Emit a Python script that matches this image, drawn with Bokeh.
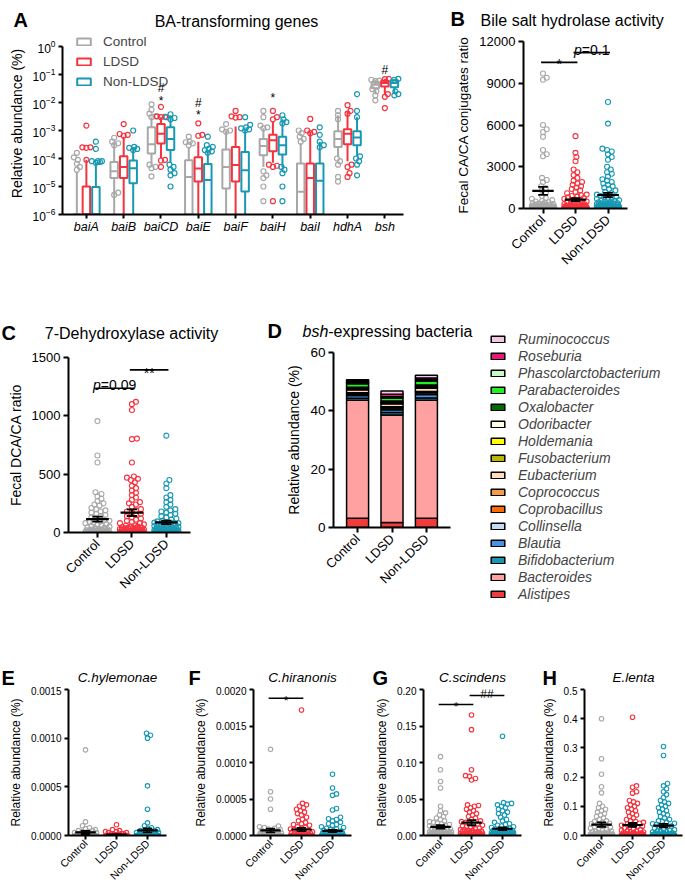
import math
import numpy as np
from bokeh.plotting import figure
from bokeh.models import (Range1d, FixedTicker, NumeralTickFormatter, Label,
                          Legend, LegendItem, ColumnDataSource)
from bokeh.layouts import row, column
from bokeh.embed import file_html
from bokeh.resources import INLINE
from bokeh.core.properties import value

FONT = "Liberation Sans"
GROUPS = ["Control", "LDSD", "Non-LDSD"]
GCOL = ["#A8A8A8", "#F5333F", "#1898B3"]

# ---------------- Panel A: BA-transforming genes (box plots, log scale) ----------------
GENES = ["baiA", "baiB", "baiCD", "baiE", "baiF", "baiH", "baiI", "hdhA", "bsh"]
# (q1, median, q3, whisker_low, whisker_high)
A_CTRL_BOX = [(1e-6, 1e-6, 1e-6, 1e-6, 3.3e-5), (2e-5, 3.5e-5, 7.5e-5, 1e-6, 4e-4),
              (1.5e-4, 3.2e-4, 1.3e-3, 6e-5, 3e-3), (1e-6, 2.2e-5, 8.7e-5, 1e-6, 2.6e-4),
              (8.5e-6, 5e-5, 2.1e-4, 1e-6, 1e-3), (1.3e-4, 2.8e-4, 5e-4, 5e-5, 1.2e-3),
              (1e-6, 6.5e-6, 6.6e-5, 1e-6, 3.5e-4), (2.6e-4, 5e-4, 9.4e-4, 1.1e-4, 3.5e-3),
              (3.2e-2, 4.3e-2, 5.4e-2, 2e-2, 6.5e-2)]
A_LDSD_BOX = [(1e-6, 1e-6, 1e-5, 1e-6, 9e-5), (2e-5, 5e-5, 1.2e-4, 1e-6, 6e-4),
              (3.4e-4, 7.7e-4, 1.7e-3, 1e-4, 3e-3), (1.5e-5, 4.4e-5, 1.1e-4, 1e-6, 4e-4),
              (1.5e-5, 5.8e-5, 2.6e-4, 1e-6, 1.4e-3), (1.8e-4, 4.5e-4, 7e-4, 7e-5, 2e-3),
              (1e-6, 2e-5, 6.6e-5, 1e-6, 9e-4), (3.2e-4, 7.7e-4, 1.1e-3, 8e-5, 5e-3),
              (3.7e-2, 5e-2, 6e-2, 2e-2, 7e-2)]
A_NON_BOX = [(1e-6, 1e-6, 9.5e-6, 1e-6, 7e-5), (1.3e-5, 4.5e-5, 8.5e-5, 1e-6, 2.3e-4),
             (2e-4, 5e-4, 1.3e-3, 7e-5, 3.5e-3), (1e-6, 1.7e-5, 6.3e-5, 1e-6, 2e-4),
             (6.6e-6, 3.8e-5, 1.7e-4, 1e-6, 1.1e-3), (1.4e-4, 3e-4, 6e-4, 5e-5, 2.5e-3),
             (1e-6, 1.6e-5, 6.6e-5, 1e-6, 4e-4), (3e-4, 5.6e-4, 9.4e-4, 1.2e-4, 3e-3),
             (3.5e-2, 5e-2, 6.2e-2, 2e-2, 7e-2)]
A_CTRL_OUT = [[1.6e-4, 1.1e-4, 9e-5, 6.5e-5, 5e-5, 4e-5],
              [5.5e-4, 4e-4, 3.5e-4, 3e-4, 5e-6, 6e-6],
              [8.6e-3, 5.5e-3, 4e-3, 3.2e-3, 3e-3, 6e-5, 5e-5, 4.5e-5, 2.3e-5],
              [6e-4, 4e-4, 3.8e-4, 3.5e-4, 3e-4],
              [1.7e-3, 1.1e-3, 1e-3, 9e-4],
              [5e-3, 3e-3, 1.5e-3, 1.3e-3, 1.2e-3, 3.5e-5, 2.5e-5, 2e-5, 1e-5, 3e-6],
              [1e-3, 8e-4, 6e-4, 5e-4, 4e-4],
              [5e-3, 3.5e-3, 2.5e-3, 1e-4, 8e-5, 6e-5, 2.2e-5, 1.5e-5],
              [6.5e-2, 6e-2, 5.8e-2, 3e-2, 2.5e-2, 1.8e-2, 1.2e-2]]
A_LDSD_OUT = [[1.5e-3, 2.5e-4, 2.5e-4, 2.4e-4, 9e-5],
              [1.7e-3, 7.5e-4, 7e-4, 6.5e-4],
              [7e-3, 3.2e-3, 3.1e-3, 3e-3, 9e-5, 8.5e-5, 5e-5],
              [1.8e-3, 7e-4, 6.5e-4],
              [5e-3, 3.2e-3, 3e-3, 2.9e-3],
              [5e-3, 3e-3, 2.5e-3, 6e-5, 5.5e-5, 5e-5, 3e-6],
              [2.6e-3, 1e-3, 9e-4, 8e-4],
              [8e-3, 5e-3, 4e-3, 6e-5, 5e-5, 3e-5, 2.2e-5],
              [7e-2, 6.8e-2, 2e-2, 1.6e-2, 6.3e-3]]
A_NON_OUT = [[4e-4, 2.2e-4, 8e-5, 8e-5, 7.5e-5, 7e-5, 8e-5],
             [1e-3, 2.6e-4, 2.4e-4, 2.2e-4, 2e-4],
             [3.8e-3, 3e-3, 2.8e-3, 2.5e-3, 6e-5, 5e-5, 4e-5, 3e-5, 2.5e-5, 1e-5],
             [6e-4, 3e-4, 2.6e-4, 2.2e-4, 2e-4, 1.8e-4, 1.6e-4],
             [3e-3, 1.6e-3, 1.3e-3, 1.2e-3, 1.1e-3, 1e-3],
             [3.5e-3, 2.5e-3, 2e-3, 1.8e-3, 5e-5, 4e-5, 3e-5, 1e-5, 3e-6],
             [1.3e-3, 7e-4, 4e-4, 3e-4, 2.5e-4],
             [2e-2, 5e-3, 3e-3, 1.2e-4, 1e-4, 8e-5, 6e-5, 2.5e-5],
             [7e-2, 6.5e-2, 2.5e-2, 2e-2, 1.8e-2]]
A_MARK_GENE = [2, 2, 3, 3, 5, 8]
A_MARK_TEXT = ["#", "*", "#", "*", "*", "#"]
A_MARK_Y = [3.2e-2, 1.5e-2, 1.0e-2, 4.4e-3, 1.8e-2, 1.4e-1]

# ---------------- Panel B: Fecal CA / CA conjugates ratio ----------------
B_CTRL = [9700, 9400, 9250, 6000, 5700, 5500, 5150, 4200, 3900, 3750, 2200, 2050, 1900, 1600,
          1450, 1300, 1100, 900, 750, 700, 600, 550, 500, 450, 420, 400,
          350, 320, 300, 280, 260, 250, 220, 200, 190, 180, 160, 150, 140, 120, 120, 100, 100, 90, 80, 80,
          70, 60, 60, 50, 50, 40, 40, 35, 30, 30, 25, 20, 20, 15, 10, 10, 5, 5, 0, 0]
B_LDSD = [5200, 4000, 3700, 3400, 2800, 2600, 2400, 2200, 2000, 1900, 1800, 1700, 1600, 1500, 1400, 1300, 1200,
          1100, 1000, 950, 900, 850, 800, 750, 700, 650, 600, 550, 500, 450, 400,
          380, 350, 320, 300, 280, 260, 240, 220, 200, 180, 160, 150, 140, 130, 120, 110, 100,
          90, 80, 70, 60, 50, 45, 40, 35, 30, 25, 20, 15, 10, 5, 0,
          0, 0, 5, 5, 10, 10, 15, 20, 20, 25, 30, 30, 40, 40, 50, 50, 60, 70, 80, 90, 100, 110, 120, 140, 160]
B_NON = [7650, 6100, 4300, 4200, 4100, 3900, 3700, 3500, 3000, 2800, 2600, 2500, 2300, 2100, 2000,
         1900, 1800, 1700, 1600, 1500, 1400, 1300, 1200, 1100, 1000,
         950, 900, 850, 800, 750, 700, 650, 600, 550, 500, 450, 400,
         380, 350, 320, 300, 280, 260, 240, 220, 200, 180, 160, 150, 140, 130, 120, 110, 100,
         90, 80, 70, 60, 50, 45, 40, 35, 30, 25, 20, 15, 10, 5, 0,
         0, 5, 10, 20, 30, 40, 50, 60, 80, 100, 120, 150, 200, 250, 300, 400, 500, 600]
B_SIG = [("*", 0, 1, 10500), ("p=0.1", 1, 2, 11200)]

# ---------------- Panel C: Fecal DCA / CA ratio ----------------
C_CTRL = [955, 660, 600, 345, 330, 310, 290, 270, 250, 240, 230, 210, 200, 190, 180, 170, 160, 150, 140, 130,
          120, 110, 100, 95, 90, 85, 80, 70, 65, 60, 55, 50, 45, 40, 35, 30, 28, 25, 22, 20, 18, 15, 12, 10,
          8, 6, 5, 4, 3, 2, 1, 0, 0, 0, 1, 2, 3, 5, 5, 8, 10, 12, 15, 18, 20]
C_LDSD = [1120, 1100, 1050, 805, 800, 600, 480, 470, 460, 450, 430, 400, 380, 360, 340, 320,
          300, 280, 260, 250, 240, 220, 200, 190, 180, 170, 160, 150, 140, 130, 120, 110, 100, 90, 80, 70,
          60, 50, 45, 40, 35, 30, 25, 20, 15, 10, 8, 5, 3, 2, 1, 0, 0, 0,
          2, 5, 10, 15, 20, 30, 40, 50, 60, 80,
          0, 0, 1, 2, 3, 4, 5, 6, 8, 10, 12, 15, 18, 20, 25, 30, 35, 40]
C_NON = [830, 450, 420, 380, 320, 300, 280, 260, 240, 220, 200, 190, 180, 170, 160,
         150, 140, 130, 120, 110, 100, 95, 90, 85, 80, 75, 70, 65, 60, 55, 50, 45, 40, 35, 30,
         28, 25, 22, 20, 18, 15, 12, 10, 8, 6, 5, 4, 3, 2, 1, 0, 0, 0,
         1, 3, 5, 8, 10, 12, 15, 20, 25, 30, 35, 40, 50, 60, 70, 80,
         0, 0, 1, 2, 2, 3, 4, 5, 6, 8]
C_SIG = [("p=0.09", 0, 1, 1236), ("**", 1, 2, 1394)]

# ---------------- Panel D: bsh-expressing bacteria (stacked, %) ----------------
D_GROUPS = ["Control", "LDSD", "Non-LDSD"]
D_NAMES = ["Alistipes", "Bacteroides", "Bifidobacterium", "Blautia", "Collinsella", "Coprobacillus",
           "Coprococcus", "Eubacterium", "Fusobacterium", "Holdemania", "Odoribacter", "Oxalobacter",
           "Parabacteroides", "Phascolarctobacterium", "Roseburia", "Ruminococcus"]
D_COLORS = ["#F03C3C", "#FFA1A1", "#1A97AF", "#4A8FE3", "#C6DBF3", "#FF6A00", "#F59B48", "#FFDDB8",
            "#B8B800", "#FFFF00", "#FFFDE3", "#006B00", "#22EE22", "#C9F7C9", "#E8177A", "#F6C6E6"]
D_ALISTIPES = [3.2, 1.7, 3.2]
D_BACTEROIDES = [40.4, 36.9, 40.4]
D_BIFIDOBACTERIUM = [0.7, 0.8, 0.8]
D_BLAUTIA = [1.0, 1.0, 1.2]
D_COLLINSELLA = [0.5, 0.6, 0.6]
D_COPROBACILLUS = [0.1, 0.1, 0.1]
D_COPROCOCCUS = [0.3, 0.3, 0.3]
D_EUBACTERIUM = [1.0, 1.0, 1.2]
D_FUSOBACTERIUM = [0.1, 0.1, 0.1]
D_HOLDEMANIA = [0.1, 0.1, 0.1]
D_ODORIBACTER = [0.4, 0.4, 0.5]
D_OXALOBACTER = [0.3, 0.4, 0.4]
D_PARABACTEROIDES = [1.2, 1.0, 1.3]
D_PHASCOLARCTOBACTERIUM = [0.4, 0.4, 0.5]
D_ROSEBURIA = [0.5, 0.9, 0.6]
D_RUMINOCOCCUS = [0.5, 1.1, 0.9]
D_VALUES = [D_ALISTIPES, D_BACTEROIDES, D_BIFIDOBACTERIUM, D_BLAUTIA, D_COLLINSELLA, D_COPROBACILLUS,
            D_COPROCOCCUS, D_EUBACTERIUM, D_FUSOBACTERIUM, D_HOLDEMANIA, D_ODORIBACTER, D_OXALOBACTER,
            D_PARABACTEROIDES, D_PHASCOLARCTOBACTERIUM, D_ROSEBURIA, D_RUMINOCOCCUS]

# ---------------- Panels E-H: relative abundance (%) ----------------
E_CTRL = [8.8e-4, 1.4e-4, 1.0e-4, 8e-5, 7e-5, 6e-5, 5e-5, 5e-5, 4e-5, 4e-5, 3e-5, 3e-5, 3e-5, 2e-5, 2e-5, 2e-5,
          2e-5, 1e-5, 1e-5, 1e-5, 1e-5, 1e-5, 5e-6, 5e-6, 5e-6, 5e-6,
          0, 0, 0, 0, 0, 0, 0, 0, 0, 0, 0, 0, 0, 0, 0, 0, 0, 0, 0, 0, 0, 0, 0, 0, 0, 0, 0, 0, 0]
E_LDSD = [1.1e-4, 6e-5, 5e-5, 4e-5, 4e-5, 3e-5, 3e-5, 2e-5, 2e-5, 2e-5, 1e-5, 1e-5, 1e-5, 1e-5, 5e-6, 5e-6, 5e-6,
          0, 0, 0, 0, 0, 0, 0, 0, 0, 0, 0, 0, 0, 0, 0, 0, 0, 0, 0, 0,
          0, 0, 0, 0, 0, 0, 0, 0, 0, 0, 0, 0, 0, 0, 0, 0, 0, 0, 0, 0]
E_NON = [1.05e-3, 1.03e-3, 1.0e-3, 5.1e-4, 2.7e-4, 1.3e-4, 1.0e-4, 8e-5, 7e-5, 6e-5, 5e-5, 5e-5, 4e-5, 4e-5,
         3e-5, 3e-5, 3e-5, 2e-5, 2e-5, 2e-5, 2e-5, 1e-5, 1e-5, 1e-5, 1e-5, 1e-5, 5e-6, 5e-6, 5e-6, 5e-6,
         0, 0, 0, 0, 0, 0, 0, 0, 0, 0, 0, 0, 0, 0, 0, 0, 0, 0, 0, 0,
         0, 0, 0, 0, 0, 0, 0, 0, 0, 0, 0, 0, 0, 0, 0, 0, 0, 0, 0, 0,
         0, 0, 0, 0, 0, 0, 0, 0, 0, 0, 0, 0, 0, 0, 0, 0, 0, 0, 0, 0]
F_CTRL = [1.18e-3, 6.0e-4, 5.0e-4, 3.6e-4, 1.3e-4, 1.2e-4, 1.1e-4, 1.0e-4, 9e-5, 8e-5, 7e-5, 6e-5, 5e-5, 5e-5,
          4e-5, 4e-5, 3e-5, 3e-5, 3e-5, 2e-5, 2e-5, 2e-5, 2e-5, 1e-5, 1e-5, 1e-5, 1e-5, 1e-5, 5e-6, 5e-6, 5e-6,
          0, 0, 0, 0, 0, 0, 0, 0, 0, 0, 0, 0, 0, 0, 0, 0, 0, 0, 0, 0, 0, 0, 0, 0]
F_LDSD = [1.72e-3, 4.4e-4, 4.2e-4, 4.0e-4, 3.8e-4, 3.6e-4, 3.4e-4, 3.2e-4, 3.0e-4, 2.8e-4, 2.5e-4, 2.2e-4, 2.0e-4,
          1.8e-4, 1.6e-4, 1.5e-4, 1.4e-4, 1.2e-4, 1.1e-4, 1.0e-4, 9e-5, 8e-5, 7e-5, 6e-5, 5e-5, 5e-5, 4e-5, 4e-5,
          3e-5, 3e-5, 2e-5, 2e-5, 2e-5, 1e-5, 1e-5, 1e-5, 5e-6, 5e-6,
          0, 0, 0, 0, 0, 0, 0, 0, 0, 0, 0, 0, 0, 0, 0, 0, 0, 0, 0, 0, 0, 0, 0, 0, 0,
          0, 0, 0, 0, 0, 0, 0, 0, 0, 0, 0, 0, 0, 0, 0, 0, 0, 0, 0, 0, 0, 0, 0, 0, 0]
F_NON = [8.4e-4, 6.5e-4, 5.7e-4, 5.5e-4, 3.7e-4, 3.5e-4, 2.5e-4, 2.3e-4, 2.2e-4, 2.0e-4, 1.8e-4, 1.6e-4, 1.5e-4,
         1.4e-4, 1.2e-4, 1.1e-4, 1.0e-4, 9e-5, 8e-5, 7e-5, 6e-5, 6e-5, 5e-5, 5e-5, 4e-5, 4e-5, 3e-5, 3e-5, 3e-5,
         2e-5, 2e-5, 2e-5, 2e-5, 1e-5, 1e-5, 1e-5, 1e-5, 5e-6, 5e-6, 5e-6,
         0, 0, 0, 0, 0, 0, 0, 0, 0, 0, 0, 0, 0, 0, 0, 0, 0, 0, 0, 0, 0, 0, 0, 0, 0, 0, 0, 0,
         0, 0, 0, 0, 0, 0, 0, 0, 0, 0, 0, 0, 0, 0, 0, 0, 0, 0, 0, 0, 0, 0, 0, 0, 0, 0, 0]
G_CTRL = [0.108, 0.090, 0.074, 0.065, 0.040, 0.034, 0.031, 0.028, 0.026, 0.024, 0.022, 0.020, 0.019, 0.018, 0.017,
          0.016, 0.015, 0.014, 0.013, 0.012, 0.011, 0.010, 0.009, 0.008, 0.008, 0.007, 0.007, 0.006, 0.006,
          0.005, 0.005, 0.005, 0.004, 0.004, 0.004, 0.003, 0.003, 0.003, 0.002, 0.002, 0.002, 0.002,
          0.001, 0.001, 0.001, 0.001, 0.0005, 0.0005, 0.0005, 0, 0, 0, 0, 0, 0, 0,
          0.003, 0.003, 0.002, 0.002, 0.002, 0.002, 0.001, 0.001, 0.001, 0.001, 0.001, 0.0015, 0.0015, 0.0025, 0.0025]
G_LDSD = [0.165, 0.145, 0.090, 0.082, 0.081, 0.078, 0.076, 0.042, 0.041, 0.040, 0.038, 0.036, 0.034, 0.032, 0.030,
          0.028, 0.026, 0.024, 0.022, 0.020, 0.019, 0.018, 0.017, 0.016, 0.015, 0.014, 0.013, 0.012, 0.011, 0.010,
          0.009, 0.008, 0.008, 0.007, 0.007, 0.006, 0.006, 0.005, 0.005, 0.005, 0.004, 0.004, 0.004,
          0.003, 0.003, 0.003, 0.003, 0.002, 0.002, 0.002, 0.002, 0.001, 0.001, 0.001, 0.001, 0.001,
          0.0005, 0.0005, 0.0005, 0, 0, 0, 0, 0, 0, 0, 0, 0, 0,
          0.001, 0.001, 0.0005, 0.0005, 0.0005, 0.0005, 0, 0, 0, 0]
G_NON = [0.136, 0.045, 0.044, 0.043, 0.042, 0.040, 0.038, 0.036, 0.034, 0.032, 0.030, 0.028, 0.025, 0.022, 0.020,
         0.018, 0.016, 0.015, 0.014, 0.013, 0.012, 0.011, 0.010, 0.009, 0.009, 0.008, 0.008, 0.007, 0.007,
         0.006, 0.006, 0.005, 0.005, 0.005, 0.004, 0.004, 0.004, 0.004, 0.003, 0.003, 0.003, 0.003,
         0.002, 0.002, 0.002, 0.002, 0.002, 0.001, 0.001, 0.001, 0.001, 0.001, 0.0005, 0.0005, 0.0005, 0.0005,
         0, 0, 0, 0, 0, 0, 0, 0, 0, 0, 0, 0,
         0.002, 0.002, 0.002, 0.0015, 0.0015, 0.0015, 0.001, 0.001, 0.001, 0.001, 0.001, 0.001,
         0.0005, 0.0005, 0.0005, 0.0005, 0.0005, 0, 0, 0, 0, 0, 0, 0, 0]
H_CTRL = [0.400, 0.263, 0.210, 0.167, 0.146, 0.110, 0.100, 0.095, 0.090, 0.085, 0.080, 0.075, 0.070, 0.065, 0.060,
          0.055, 0.050, 0.048, 0.045, 0.042, 0.040, 0.038, 0.035, 0.032, 0.030, 0.028, 0.025, 0.022, 0.020,
          0.018, 0.016, 0.015, 0.013, 0.012, 0.010, 0.009, 0.008, 0.007, 0.006, 0.005, 0.005, 0.004, 0.004,
          0.003, 0.003, 0.002, 0.002, 0.001, 0.001, 0.001, 0, 0, 0, 0, 0,
          0.004, 0.003, 0.003, 0.002, 0.002, 0.002, 0.002, 0.001, 0.001, 0.001, 0.001, 0.001, 0, 0, 0, 0, 0]
H_LDSD = [0.405, 0.170, 0.165, 0.150, 0.145, 0.120, 0.115, 0.110, 0.105, 0.100, 0.095, 0.090, 0.085, 0.080, 0.075,
          0.070, 0.065, 0.060, 0.055, 0.050, 0.048, 0.045, 0.042, 0.040, 0.038, 0.035, 0.032, 0.030, 0.028, 0.025,
          0.022, 0.020, 0.018, 0.016, 0.015, 0.013, 0.012, 0.010, 0.009, 0.008, 0.007, 0.006, 0.005, 0.005,
          0.004, 0.004, 0.003, 0.003, 0.002, 0.002, 0.001, 0.001,
          0.003, 0.003, 0.002, 0.002, 0.002, 0.002, 0.001, 0.001, 0.001, 0.001, 0.001, 0.001,
          0.0005, 0.0005, 0.0005, 0.0005, 0.0005, 0.0005, 0, 0, 0, 0, 0, 0, 0, 0, 0, 0]
H_NON = [0.305, 0.274, 0.178, 0.170, 0.160, 0.150, 0.140, 0.130, 0.120, 0.115, 0.110, 0.105, 0.100, 0.095, 0.090,
         0.085, 0.080, 0.075, 0.070, 0.065, 0.060, 0.055, 0.050, 0.048, 0.045, 0.042, 0.040, 0.038, 0.035, 0.032,
         0.030, 0.028, 0.025, 0.022, 0.020, 0.018, 0.016, 0.015, 0.013, 0.012, 0.010, 0.009, 0.008, 0.007, 0.006,
         0.005, 0.005, 0.004, 0.004, 0.003, 0.003, 0.002, 0.002, 0.001, 0.001,
         0.004, 0.004, 0.003, 0.003, 0.003, 0.002, 0.002, 0.002, 0.002, 0.002, 0.001, 0.001, 0.001, 0.001, 0.001, 0.001,
         0.0005, 0.0005, 0.0005, 0.0005, 0.0005, 0.0005, 0.0005, 0.0005,
         0, 0, 0, 0, 0, 0, 0, 0, 0, 0, 0, 0, 0, 0, 0, 0, 0, 0, 0, 0]
F_SIG = [("*", 0, 1, 0.00188)]
G_SIG = [("*", 0, 1, 0.1795), ("##", 1, 2, 0.1918)]


# ---------------- helpers ----------------
def swarm(yp, d=4.0, maxw=12.0):
    """Deterministic beeswarm offsets (pixels) for pixel heights yp."""
    ys = np.asarray(yp, float)
    n = len(ys)
    order = np.argsort(ys, kind="stable")
    c = [0.0]
    k = 1.0
    while k <= maxw:
        c += [k, -k]
        k += 1.0
    cands = np.array(c)
    PX, PY = [], []
    offs = np.zeros(n)
    for i in order:
        y = ys[i]
        x = 0.0
        if PX:
            ax = np.array(PX); ay = np.array(PY)
            near = np.abs(ay - y) < d
            if near.any():
                nx = ax[near]; ny = ay[near]
                dist = np.sqrt((cands[:, None] - nx[None, :]) ** 2 + (y - ny[None, :]) ** 2).min(axis=1)
                ok = np.where(dist >= d)[0]
                j = ok[0] if len(ok) else int(np.argmax(dist))
                x = cands[j]
        offs[i] = x
        PX.append(x); PY.append(y)
    return offs


def style_axes(p, tick_fs, lab_fs, xlab_fs, tick_out=5, lw=2, xstand=4):
    for ax in (p.xaxis[0], p.yaxis[0]):
        ax.axis_line_width = lw
        ax.axis_line_color = "black"
        ax.major_tick_line_width = lw
        ax.major_tick_line_color = "black"
        ax.major_tick_in = 0
        ax.major_tick_out = tick_out
        ax.minor_tick_line_color = None
        ax.major_label_text_font = FONT
        ax.major_label_text_color = "black"
        ax.axis_label_text_font = FONT
        ax.axis_label_text_font_style = "normal"
        ax.axis_label_text_color = "black"
        ax.axis_label_text_font_size = lab_fs
    p.yaxis[0].major_label_text_font_size = tick_fs
    p.yaxis[0].major_label_standoff = 3
    p.yaxis[0].axis_label_standoff = 5
    p.xaxis[0].major_label_text_font_size = xlab_fs
    p.xaxis[0].major_label_standoff = xstand
    p.xgrid.visible = False
    p.ygrid.visible = False
    p.outline_line_color = None


CW = {"=": 0.584, ".": 0.278, "p": 0.556, "*": 0.389, "#": 0.556, "b": 0.556, "s": 0.5, "h": 0.556}


def tw(s, fs):
    return sum(CW.get(ch, 0.556) for ch in s) * fs


def bare_figure(width, height):
    """A figure without axes whose frame is the whole figure."""
    h = figure(width=width, height=height, x_range=Range1d(0, width), y_range=Range1d(0, height),
               x_axis_location=None, y_axis_location=None, toolbar_location=None,
               output_backend="svg", min_border=0, title=None, frame_align=False)
    h.outline_line_color = None
    h.grid.visible = False
    return h


def header(width, height, items):
    """Strip with panel letters and titles; y of each item is its baseline measured from the strip top."""
    h = bare_figure(width, height)
    for x, y, text, size, style, align in items:
        h.add_layout(Label(x=x, y=height - y, x_units="screen", y_units="screen", text=text,
                           text_font=FONT, text_font_size=size, text_font_style=style,
                           text_align=align, text_baseline="alphabetic", text_color="black"))
    return h


def add_sigs(p, sigs, fs, star_off, hash_off):
    for txt, i, j, yv in sigs:
        p.segment(x0=[i - 0.06], y0=[yv], x1=[j + 0.06], y1=[yv], line_color="black", line_width=1.6)
        xm = (i + j) / 2.0
        common = dict(text_font=value(FONT), text_font_size=value(f"{fs}px"), text_color="black",
                      text_baseline="alphabetic")
        if txt.startswith("p="):
            rest = txt[1:]
            total = tw("p", fs) + tw(rest, fs)
            left = -total / 2.0
            p.text(x=[xm], y=[yv], text=["p"], x_offset=left, y_offset=-3, text_align="left",
                   text_font_style="italic", **common)
            p.text(x=[xm], y=[yv], text=[rest], x_offset=left + tw("p", fs), y_offset=-3,
                   text_align="left", **common)
        else:
            yo = star_off if "*" in txt else hash_off
            p.text(x=[xm], y=[yv], text=[txt], y_offset=yo, text_align="center", **common)


def dot_panel(W, H, bl, br, bt, bb, xr, ymax, yticks, yfmt, groups_vals, ylabel,
              tick_fs, lab_fs, xlab_fs, msize, maxw, sigs, sig_fs, star_off=2, hash_off=-1,
              tick_out=5, xstand=4):
    p = figure(width=W, height=H, x_range=Range1d(*xr), y_range=Range1d(0, ymax),
               output_backend="svg", toolbar_location=None, title=None, frame_align=False,
               min_border_left=bl, min_border_right=br, min_border_top=bt, min_border_bottom=bb)
    fw = W - bl - br
    fh = H - bt - bb
    pxx = fw / (xr[1] - xr[0])
    pxy = fh / ymax
    means, sems = [], []
    for g, vals in enumerate(groups_vals):
        v = np.asarray(vals, float)
        offs = swarm(v * pxy, d=msize * 0.85, maxw=maxw)
        p.scatter(g + offs / pxx, v, marker="circle", size=msize, fill_color=None,
                  line_color=GCOL[g], line_width=1.1)
        means.append(float(v.mean()))
        sems.append(float(v.std(ddof=1) / math.sqrt(len(v))))
    gx = np.arange(3, dtype=float)
    m = np.array(means); s = np.array(sems)
    p.segment(x0=gx - 0.33, y0=m, x1=gx + 0.33, y1=m, line_color="black", line_width=2.2)
    p.segment(x0=gx, y0=m - s, x1=gx, y1=m + s, line_color="black", line_width=1.8)
    p.segment(x0=gx - 0.15, y0=m + s, x1=gx + 0.15, y1=m + s, line_color="black", line_width=1.8)
    p.segment(x0=gx - 0.15, y0=m - s, x1=gx + 0.15, y1=m - s, line_color="black", line_width=1.8)
    add_sigs(p, sigs, sig_fs, star_off, hash_off)
    p.xaxis.ticker = FixedTicker(ticks=[0, 1, 2])
    p.xaxis.major_label_overrides = {0: GROUPS[0], 1: GROUPS[1], 2: GROUPS[2]}
    p.xaxis.major_label_orientation = math.pi / 4
    p.yaxis.ticker = FixedTicker(ticks=yticks)
    p.yaxis.formatter = NumeralTickFormatter(format=yfmt)
    p.yaxis.axis_label = ylabel
    style_axes(p, tick_fs, lab_fs, xlab_fs, tick_out=tick_out, xstand=xstand)
    return p


# ================= Row 1 =================
H1 = 32
hdr1 = header(685, H1, [
    (13, 19, "A", "20px", "bold", "left"),
    (236, 21, "BA-transforming genes", "16px", "normal", "center"),
    (450, 18, "B", "20px", "bold", "left"),
    (480, 20, "Bile salt hydrolase activity", "16px", "normal", "left"),
])

# ---- Panel A ----
A_W, A_H, A_BL, A_BR, A_BT, A_BB = 453, 296 - H1, 62, 50, 0, 82
A_XR = (-0.64, 8.5)
A_FW = A_W - A_BL - A_BR
A_FH = A_H - A_BT - A_BB
A_DEC = 28.0  # pixels per decade
A_YTOP = 10 ** (-6 + A_FH / A_DEC)
pA = figure(width=A_W, height=A_H, y_axis_type="log", x_range=Range1d(*A_XR), y_range=Range1d(1e-6, A_YTOP),
            output_backend="svg", toolbar_location=None, title=None, frame_align=False,
            min_border_left=A_BL, min_border_right=A_BR, min_border_top=A_BT, min_border_bottom=A_BB)
A_PXX = A_FW / (A_XR[1] - A_XR[0])
A_OFF = [-0.255, 0.0, 0.255]
A_BW = 0.2
box_renderers = []
for g, (boxes, outs) in enumerate(zip([A_CTRL_BOX, A_LDSD_BOX, A_NON_BOX],
                                      [A_CTRL_OUT, A_LDSD_OUT, A_NON_OUT])):
    xs = np.arange(len(GENES)) + A_OFF[g]
    q1 = np.array([b[0] for b in boxes]); med = np.array([b[1] for b in boxes])
    q3 = np.array([b[2] for b in boxes]); lo = np.array([b[3] for b in boxes]); hi = np.array([b[4] for b in boxes])
    pA.segment(x0=xs, y0=q3, x1=xs, y1=hi, line_color=GCOL[g], line_width=2)
    pA.segment(x0=xs, y0=q1, x1=xs, y1=lo, line_color=GCOL[g], line_width=2)
    r = pA.vbar(x=xs, width=A_BW, top=q3, bottom=q1, fill_color="white", line_color=GCOL[g], line_width=2)
    box_renderers.append(r)
    pA.segment(x0=xs - A_BW / 2, y0=med, x1=xs + A_BW / 2, y1=med, line_color=GCOL[g], line_width=2)
    px, py = [], []
    for i, vals in enumerate(outs):
        v = np.asarray(vals, float)
        offs = swarm(np.log10(v) * A_DEC, d=4.0, maxw=6.0)
        px += list(i + A_OFF[g] + offs / A_PXX)
        py += list(v)
    pA.scatter(px, py, marker="circle", size=5, fill_color=None, line_color=GCOL[g], line_width=1.2)
for gi, t, yv in zip(A_MARK_GENE, A_MARK_TEXT, A_MARK_Y):
    pA.text(x=[gi + A_OFF[1]], y=[yv], text=[t], text_align="center", text_baseline="middle",
            y_offset=3 if t == "*" else 0, text_font=value(FONT), text_font_size=value("12px"),
            text_color="black")
pA.xaxis.ticker = FixedTicker(ticks=list(range(len(GENES))))
pA.xaxis.major_label_overrides = {i: gname for i, gname in enumerate(GENES)}
pA.xaxis.major_label_text_font_style = "italic"
pA.yaxis.ticker = FixedTicker(ticks=[1e-6, 1e-5, 1e-4, 1e-3, 1e-2, 1e-1, 1.0])
pA.yaxis.bounds = (1e-6, 1.0)
pA.yaxis.axis_label = "Relative abundance (%)"
style_axes(pA, "12px", "14px", "12.5px", tick_out=4, xstand=1)
legA = Legend(items=[LegendItem(label=value(GROUPS[g]), renderers=[box_renderers[g]]) for g in range(3)],
              location=(13, A_FH - 57), orientation="vertical", glyph_width=17, glyph_height=9,
              label_height=16, spacing=4, padding=0, margin=0, label_standoff=11,
              label_text_font=FONT, label_text_font_size="13.5px", border_line_color=None,
              background_fill_alpha=0)
pA.add_layout(legA)

# ---- Panel B ----
pB = dot_panel(232, 296 - H1, 62, 58, 41 - H1, 88, (-0.6, 2.6), 12000, [0, 3000, 6000, 9000, 12000], "0",
               [B_CTRL, B_LDSD, B_NON], "Fecal CA/CA conjugates ratio",
               "13px", "13.5px", "13px", 5, 12, B_SIG, 14, star_off=2)

# ================= Row 2 =================
H2 = 49
hdr2 = header(485, H2, [
    (1, 36, "C", "20px", "bold", "left"),
    (131, 37, "7-Dehydroxylase activity", "16px", "normal", "center"),
    (267, 34, "D", "20px", "bold", "left"),
    (302, 35, "bsh", "16px", "italic", "left"),
    (302 + tw("bsh", 16), 35, "-expressing bacteria", "16px", "normal", "left"),
])
R2_H = 322 - H2

# ---- Panel C ----
pC = dot_panel(268, R2_H, 68, 78, 357 - 296 - H2, 86, (-0.84, 2.70), 1500, [0, 500, 1000, 1500], "0",
               [C_CTRL, C_LDSD, C_NON], "Fecal DCA/CA ratio",
               "13px", "14px", "13px", 5, 12, C_SIG, 14, star_off=3)

# ---- Panel D ----
D_W, D_H, D_BL, D_BR, D_BT, D_BB = 217, R2_H, 65, 35, 352 - 296 - H2, 91
pD = figure(width=D_W, height=D_H, x_range=Range1d(-0.70, 2.70), y_range=Range1d(0, 60),
            output_backend="svg", toolbar_location=None, title=None, frame_align=False,
            min_border_left=D_BL, min_border_right=D_BR, min_border_top=D_BT, min_border_bottom=D_BB)
d_data = {"x": [0, 1, 2]}
keys = []
for k, vals in enumerate(D_VALUES):
    d_data[f"s{k}"] = vals
    keys.append(f"s{k}")
rs = pD.vbar_stack(keys, x="x", width=0.64, fill_color=D_COLORS, line_color="black", line_width=1.5,
                   source=ColumnDataSource(d_data))
pD.xaxis.ticker = FixedTicker(ticks=[0, 1, 2])
pD.xaxis.major_label_overrides = {0: D_GROUPS[0], 1: D_GROUPS[1], 2: D_GROUPS[2]}
pD.xaxis.major_label_orientation = math.pi / 4
pD.yaxis.ticker = FixedTicker(ticks=[0, 20, 40, 60])
pD.yaxis.axis_label = "Relative abundance (%)"
style_axes(pD, "13.5px", "14px", "13px")

# legend for D in its own axis-free figure to the right (proxy renderers are hidden)
pDL = bare_figure(200, 322)
leg_renderers = []
for k in range(len(D_NAMES)):
    r = pDL.vbar(x=[0], top=[D_VALUES[k][0]], width=0.5, fill_color=D_COLORS[k], line_color="black",
                 line_width=1.5, visible=False)
    leg_renderers.append(r)
legD = Legend(items=[LegendItem(label=value(D_NAMES[k]), renderers=[leg_renderers[k]])
                     for k in reversed(range(len(D_NAMES)))],
              location=(4, 16), orientation="vertical", glyph_width=17, glyph_height=8,
              label_height=16, spacing=1, padding=0, margin=0, label_standoff=12,
              label_text_font=FONT, label_text_font_size="14px", label_text_font_style="italic",
              border_line_color=None, background_fill_alpha=0,
              inactive_fill_alpha=0, click_policy="none")
pDL.add_layout(legD)

# ================= Row 3 =================
H3 = 68
hdr3 = header(685, H3, [
    (1, 59, "E", "20px", "bold", "left"),
    (117, 59, "C.hylemonae", "13.5px", "italic", "center"),
    (188, 59, "F", "20px", "bold", "left"),
    (302, 59, "C.hiranonis", "13.5px", "italic", "center"),
    (372, 59, "G", "20px", "bold", "left"),
    (472, 59, "C.scindens", "13.5px", "italic", "center"),
    (542, 59, "H", "20px", "bold", "left"),
    (633, 59, "E.lenta", "13.5px", "italic", "center"),
])

R3_BT, R3_BB = 689 - 618 - H3, 54
R3_H = R3_BT + 146 + R3_BB
R3_XR = (-17 / 31, 81 / 31)
small = dict(tick_fs="10px", lab_fs="12px", xlab_fs="10.5px", msize=4.5, maxw=11, sig_fs=12,
             tick_out=4, xstand=2)
pE = dot_panel(185, R3_H, 68, 19, R3_BT, R3_BB, R3_XR, 0.0015,
               [0, 0.0005, 0.0010, 0.0015], "0.0000", [E_CTRL, E_LDSD, E_NON],
               "Relative abundance (%)", sigs=[], **small)
pF = dot_panel(170, R3_H, 68, 4, R3_BT, R3_BB, R3_XR, 0.0020,
               [0, 0.0005, 0.0010, 0.0015, 0.0020], "0.0000", [F_CTRL, F_LDSD, F_NON],
               "Relative abundance (%)", sigs=F_SIG, star_off=3, **small)
pG = dot_panel(170, R3_H, 68, 4, R3_BT, R3_BB, R3_XR, 0.20,
               [0, 0.05, 0.10, 0.15, 0.20], "0.00", [G_CTRL, G_LDSD, G_NON],
               "Relative abundance (%)", sigs=G_SIG, star_off=3, hash_off=-1, **small)
pH = dot_panel(160, R3_H, 59, 3, R3_BT, R3_BB, R3_XR, 0.5,
               [0, 0.1, 0.2, 0.3, 0.4, 0.5], "0.0", [H_CTRL, H_LDSD, H_NON],
               "Relative abundance (%)", sigs=[], **small)

layout = column(hdr1, row(pA, pB),
                row(column(hdr2, row(pC, pD)), pDL),
                hdr3, row(pE, pF, pG, pH))
open("out.html", "w").write(file_html(layout, INLINE))
